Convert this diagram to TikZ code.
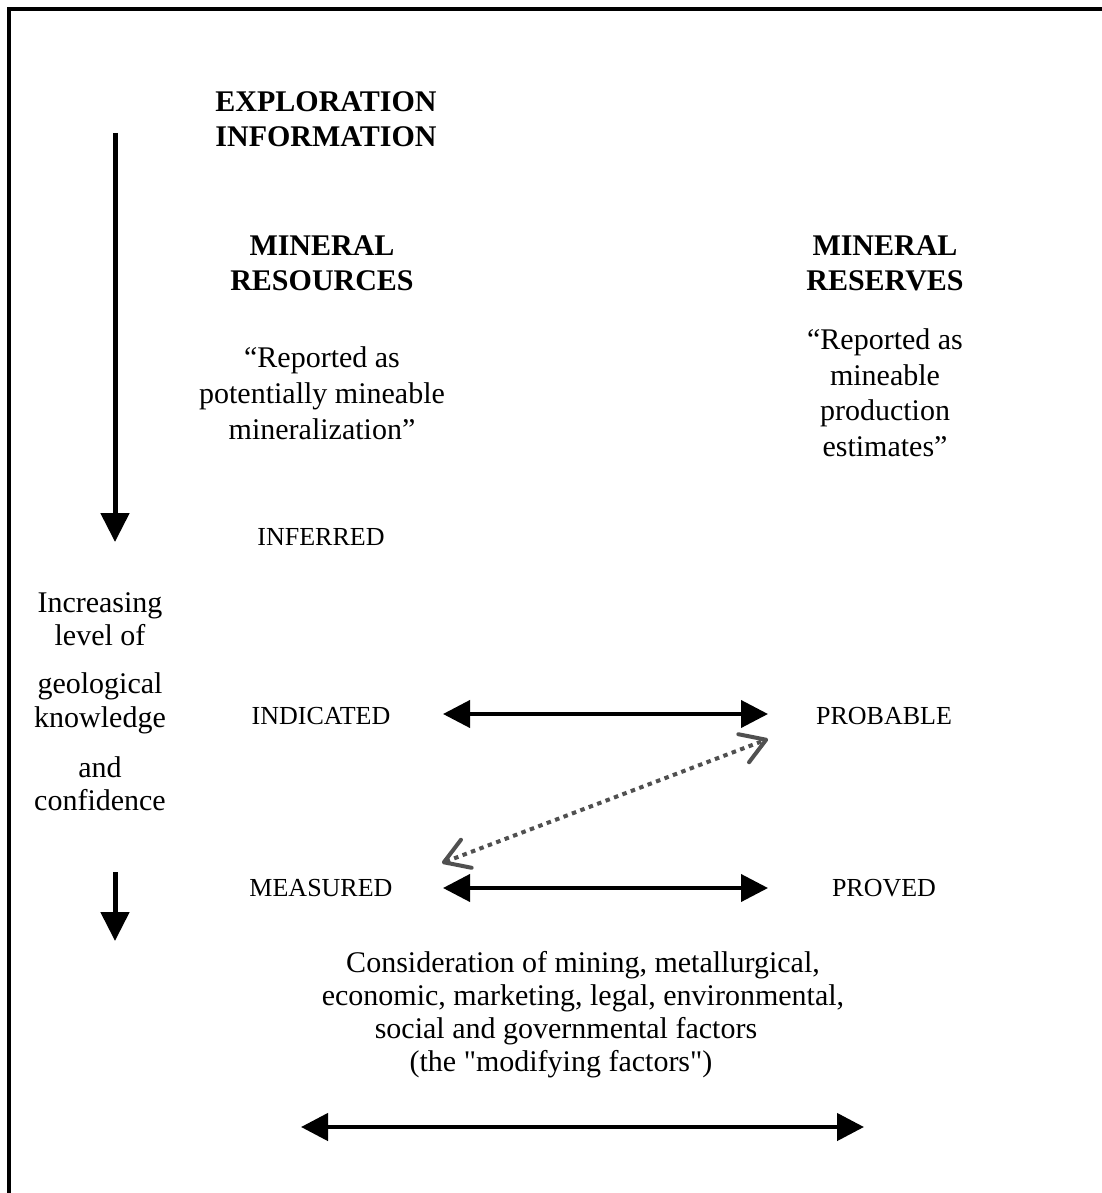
\documentclass[tikz,border=0pt]{standalone}
\usepackage{fontspec}
\setmainfont{Liberation Serif}
\usetikzlibrary{arrows.meta}
\definecolor{dotgray}{RGB}{80,80,80}
\newcommand\straightquote{\XeTeXglyph\XeTeXcharglyph"22\relax}
\newcommand\padright[1]{\rule{#1}{0pt}}
\begin{document}
\begin{tikzpicture}[x=1pt,y=-1pt,
  body/.style={font=\fontsize{30}{35}\selectfont, align=center, inner sep=0pt, anchor=base},
  headtxt/.style={font=\fontsize{30}{35}\selectfont\bfseries, align=center, inner sep=0pt, anchor=base},
  cat/.style={font=\fontsize{26}{30}\selectfont, inner sep=0pt, anchor=base},
  dblarrow/.style={line width=4pt, {Triangle[length=27pt,width=27pt]}-{Triangle[length=27pt,width=27pt]}},
  downarrow/.style={line width=5pt, -{Triangle[length=29pt,width=28pt]}},
  dotarrow/.style={draw=dotgray, line width=4pt, dash pattern=on 4.5pt off 4.5pt,
    {Straight Barb[length=24pt,width=30pt,round]}-{Straight Barb[length=24pt,width=30pt,round]}}
]
\useasboundingbox (0,0) rectangle (1101,1193);
% frame (top and left only)
\draw[line width=4pt] (9.3,1200) -- (9.3,9.3) -- (1110,9.3);

% headings (base anchor = baseline of last line)
\node[headtxt] (expl) at (326,147) {EXPLORATION\\INFORMATION};
\node[headtxt] (mres) at (322,290) {MINERAL\\RESOURCES};
\node[headtxt] (mrsv) at (885,290) {MINERAL\\RESERVES};

% quotes
\node[body, font=\fontsize{30}{36}\selectfont] (qres) at (322,439) {“Reported as\\potentially mineable\\mineralization”};
\node[body, font=\fontsize{30}{35.5}\selectfont] (qrsv) at (885,456) {“Reported as\\mineable\\production\\estimates”};

% categories
\node[cat] (inf) at (321,545.5) {INFERRED};
\node[cat] (ind) at (321,724) {INDICATED};
\node[cat] (mea) at (321,896) {MEASURED};
\node[cat] (prob) at (884,724) {PROBABLE};
\node[cat] (prov) at (884,896) {PROVED};

% left column text
\node[body, font=\fontsize{30}{33}\selectfont] (k1) at (100,645) {Increasing\\level of};
\node[body, font=\fontsize{30}{34}\selectfont] (k2) at (100,727) {geological\\knowledge};
\node[body, font=\fontsize{30}{33}\selectfont] (k3) at (100,810) {and\\confidence};

% bottom text
\node[body, font=\fontsize{30}{33}\selectfont] (mod) at (583,1071) {Consideration of mining, metallurgical,\\economic, marketing, legal, environmental,\\social and governmental factors\padright{34pt}\\(the \straightquote modifying factors\straightquote)\padright{44pt}};

% connector end points
\coordinate (vTop) at (115,133);
\coordinate (vEnd) at (115,542);
\coordinate (vTopB) at (115,872);
\coordinate (vEndB) at (115,941);
\coordinate (indR) at (443,714);
\coordinate (probL) at (768,714);
\coordinate (meaR) at (443,888);
\coordinate (provL) at (768,888);
\coordinate (dotA) at (442,863);
\coordinate (dotB) at (768,739);
\coordinate (botL) at (301,1127);
\coordinate (botR) at (864,1127);

% arrows
\draw[downarrow] (vTop) -- (vEnd);
\draw[downarrow] (vTopB) -- (vEndB);
\draw[dblarrow] (indR) -- (probL);
\draw[dblarrow] (meaR) -- (provL);
\draw[dotarrow] (dotA) -- (dotB);
\draw[dblarrow, line width=4.5pt] (botL) -- (botR);
\end{tikzpicture}
\end{document}
